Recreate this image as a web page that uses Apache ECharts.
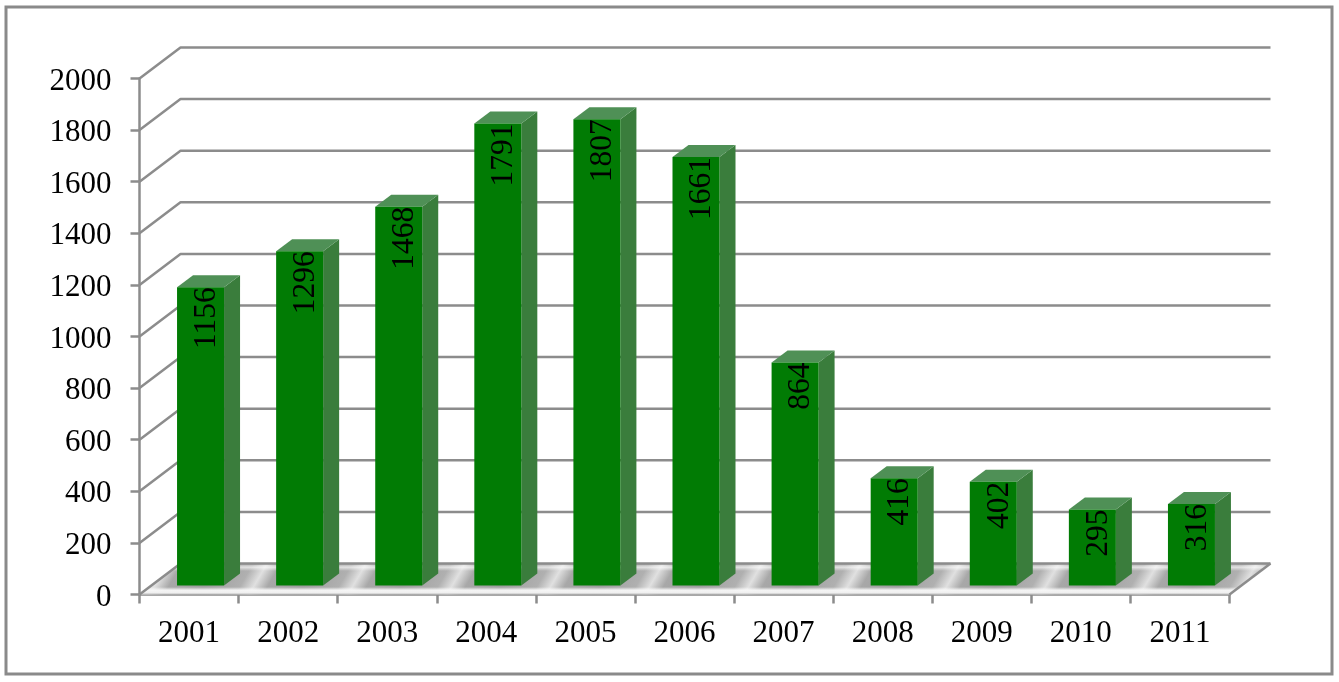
<!DOCTYPE html>
<html>
<head>
<meta charset="utf-8">
<style>html,body{margin:0;padding:0;background:#fff}#c{width:1339px;height:682px}</style>
<script src="https://cdn.jsdelivr.net/npm/echarts@6/dist/echarts.min.js"></script>
</head>
<body>
<div id="c"></div>
<script>
const categories = ['2001','2002','2003','2004','2005','2006','2007','2008','2009','2010','2011'];
const values = [1156,1296,1468,1791,1807,1661,864,416,402,295,316];
const yTicks = [0,200,400,600,800,1000,1200,1400,1600,1800,2000];

const FONT = '"Liberation Serif","Times New Roman",serif';
const LINE = '#8c8c8c';
const WALL_DX = 41, WALL_DY = -31;   // back wall depth
const BAR_DX = 11.5, BAR_DY = -9;    // bar inset from the front of the floor
const SIDE_DX = 16, SIDE_DY = -12;   // bar depth
const BAR_W = 47;

const chart = echarts.init(document.getElementById('c'), null, {renderer:'canvas'});

function floorStops(periods){
  const stops = [];
  const push = (p, color) => { const o = p/periods; if(o>=0 && o<=1) stops.push({offset:o,color}); };
  for(let k=0;k<periods;k++){
    const c = k + .107;
    push(c-.14,'#b0b0b0');
    push(c,'#e0e0e0');
    push(c+.14,'#a8a8a8');
    push(c+.5,'#9e9e9e');
  }
  return stops;
}

function floorItem(params, api){
  const band = api.size([1,0])[0];
  const a = api.coord([0,0]), b = api.coord([categories.length-1,0]);
  const xl = a[0]-band/2, xr = b[0]+band/2, y0 = a[1];
  const poly = [[xl,y0],[xr,y0],[xr+WALL_DX,y0+WALL_DY],[xl+WALL_DX,y0+WALL_DY]];
  const periods = categories.length+2;
  return {type:'group',children:[{
    type:'polygon', shape:{points:poly},
    style:{fill:{type:'linear',global:true,x:xl,y:y0,x2:xl+74*periods,y2:y0+43*periods,colorStops:floorStops(periods)},stroke:null}
  },{
    type:'polygon', shape:{points:poly},
    style:{fill:{type:'linear',x:0,y:0,x2:0,y2:1,colorStops:[
      {offset:.03,color:'rgba(255,255,255,.1)'},{offset:.12,color:'rgba(255,255,255,.65)'},{offset:.24,color:'rgba(255,255,255,0)'},
      {offset:.76,color:'rgba(255,255,255,0)'},{offset:.86,color:'rgba(248,248,248,.95)'},{offset:.94,color:'rgba(240,240,240,1)'},
      {offset:1,color:'rgba(190,190,190,1)'}]},stroke:null}
  },{
    type:'polyline',shape:{points:[[xr,y0],[xr+WALL_DX,y0+WALL_DY]]},
    style:{stroke:LINE,lineWidth:2.5,fill:null}
  }]};
}

function gridItem(params, api){
  const v = api.value(1);
  const band = api.size([1,0])[0];
  const a = api.coord([0, v]), b = api.coord([categories.length-1, v]);
  const xl = a[0]-band/2, xr = b[0]+band/2, y = a[1];
  return {type:'polyline',shape:{points:[[xl,y],[xl+WALL_DX,y+WALL_DY],[xr+WALL_DX,y+WALL_DY]]},
    style:{stroke:LINE,lineWidth:2.5,fill:null,lineJoin:'round'}};
}

function barItem(params, api){
  const i = api.value(0), v = api.value(1);
  const top = api.coord([i, v]), base = api.coord([i, 0]);
  const l = top[0] - BAR_W/2 + BAR_DX, r = l + BAR_W;
  const t = top[1] + BAR_DY, b = base[1] + BAR_DY;
  return {type:'group',children:[
    {type:'polygon',shape:{points:[[r,t],[r+SIDE_DX,t+SIDE_DY],[r+SIDE_DX,b+SIDE_DY],[r,b]]},style:{fill:'#3a7d3c',stroke:null}},
    {type:'polygon',shape:{points:[[l,t],[l+SIDE_DX,t+SIDE_DY],[r+SIDE_DX,t+SIDE_DY],[r,t]]},style:{fill:'#4f9056',stroke:null}},
    {type:'rect',shape:{x:l,y:t,width:BAR_W,height:b-t},style:{fill:'#017b04',stroke:null}},
    {type:'text',x:l+BAR_W/2+6,y:t,rotation:Math.PI/2,
      style:{text:String(v),font:'31.5px '+FONT,fill:'#000',textAlign:'right',textVerticalAlign:'middle'}}
  ]};
}

chart.setOption({
  animation:false,
  backgroundColor:'#fff',
  graphic:[{type:'rect',shape:{x:6,y:7,width:1326,height:667},style:{fill:'#fff',stroke:'#8a8a8a',lineWidth:3},z:-10,silent:true}],
  grid:{left:139.5,right:109.5,top:78.5,bottom:87.5,containLabel:false},
  xAxis:{type:'category',data:categories,boundaryGap:true,
    axisLine:{lineStyle:{color:LINE,width:2.5}},
    axisTick:{show:true,alignWithLabel:false,length:9,lineStyle:{color:LINE,width:2.5}},
    axisLabel:{color:'#000',fontFamily:FONT,fontSize:31,margin:24},
    splitLine:{show:false}},
  yAxis:{type:'value',min:0,max:2000,interval:200,
    axisLine:{show:true,lineStyle:{color:LINE,width:2.5}},
    axisTick:{show:true,length:9,lineStyle:{color:LINE,width:2.5}},
    axisLabel:{color:'#000',fontFamily:FONT,fontSize:31,margin:28,verticalAlign:'top',lineHeight:6,formatter:v=>String(v)},
    splitLine:{show:false}},
  series:[
    {type:'custom',z:1,silent:true,data:[[0]],encode:{x:0},renderItem:floorItem},
    {type:'custom',z:2,silent:true,data:yTicks.map(v=>[0,v]),encode:{x:0,y:1},renderItem:gridItem},
    {type:'custom',z:3,silent:true,data:values.map((v,i)=>[i,v]),encode:{x:0,y:1},renderItem:barItem}
  ]
});
</script>
</body>
</html>
